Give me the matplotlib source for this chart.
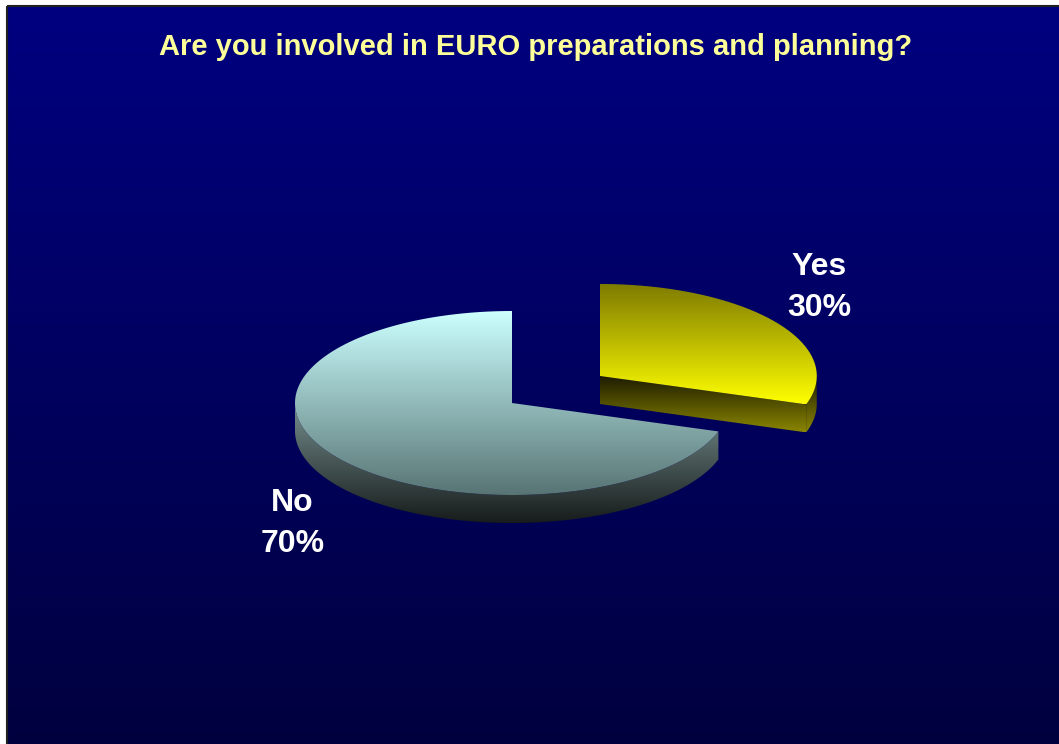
import numpy as np
import matplotlib.pyplot as plt
from matplotlib.colors import LinearSegmentedColormap
from matplotlib.patches import Polygon, Rectangle

# survey answers, drawn clockwise from 12 o'clock
labels = ["Yes", "No"]
shares = [30, 70]
explode = [0.5, 0.0]
title = "Are you involved in EURO preparations and planning?"

W, H = 1059, 744
cx, cy = 512, 403        # centre of the pie's top face (pixels)
rx, ry = 217, 92         # ellipse radii of the tilted disc
depth = 28               # thickness of the disc
label_font = ["Liberation Sans", "DejaVu Sans"]

# top colour, bottom colour for (top face, side faces) of each slice
face_colors = {
    "Yes": (("#7d7a00", "#ffff00"), ("#1c1a00", "#8a8600")),
    "No": (("#ccffff", "#587474"), ("#768e8e", "#161c1b")),
}


def grad_fill(ax, xy, c_top, c_bot, zorder):
    xy = np.asarray(xy)
    patch = Polygon(xy, closed=True, facecolor="none", edgecolor="none",
                    transform=ax.transData)
    ax.add_patch(patch)
    cmap = LinearSegmentedColormap.from_list("g", [c_top, c_bot])
    grad = np.linspace(0, 1, 256).reshape(-1, 1)
    x0, x1 = xy[:, 0].min(), xy[:, 0].max()
    y0, y1 = xy[:, 1].min(), xy[:, 1].max()
    im = ax.imshow(grad, cmap=cmap, extent=(x0, x1, y1, y0), origin="upper",
                   aspect="auto", interpolation="bilinear", zorder=zorder)
    im.set_clip_path(patch)


def rim(t, ox, oy, dy=0.0):
    t = np.radians(t)
    return np.column_stack([ox + rx * np.cos(t), oy - ry * np.sin(t) + dy])


fig = plt.figure(figsize=(W / 100, H / 100), dpi=100)
fig.patch.set_facecolor("white")
ax = fig.add_axes([0, 0, 1, 1])
ax.set_axis_off()

# navy backdrop fading downwards
bg = LinearSegmentedColormap.from_list("bg", ["#000080", "#00003f"])
ax.imshow(np.linspace(0, 1, 256).reshape(-1, 1), cmap=bg,
          extent=(7, W, H, 6), origin="upper", aspect="auto", zorder=0)
ax.add_patch(Rectangle((7, 6), W, H, facecolor="none", edgecolor="#202020",
                       lw=1.5, zorder=1))

total = float(sum(shares))
angle = 90.0
for lab, val, exp in zip(labels, shares, explode):
    t2 = angle
    t1 = angle - 360.0 * val / total
    angle = t1
    mid = np.radians((t1 + t2) / 2)
    ox = cx + exp * rx * np.cos(mid)
    oy = cy - exp * ry * np.sin(mid)
    (top_a, top_b), (side_a, side_b) = face_colors[lab]

    # front part of the outer rim (where the disc faces the viewer)
    for k in (-360, 0, 360):
        a, b = max(t1, -180 + k), min(t2, 0 + k)
        if a < b:
            ts = np.linspace(a, b, 200)
            xy = np.vstack([rim(ts, ox, oy), rim(ts[::-1], ox, oy, depth)])
            grad_fill(ax, xy, side_a, side_b, 2)

    # cut faces that turn towards the viewer
    for t, visible in ((t1, np.cos(np.radians(t1)) > 1e-9),
                       (t2, np.cos(np.radians(t2)) < -1e-9)):
        if visible:
            p = rim([t], ox, oy)[0]
            xy = [(ox, oy), p, (p[0], p[1] + depth), (ox, oy + depth)]
            grad_fill(ax, xy, side_a, side_b, 2)

    ts = np.linspace(t1, t2, 300)
    xy = np.vstack([[ox, oy], rim(ts, ox, oy)])
    grad_fill(ax, xy, top_a, top_b, 3)

    # label outside the slice
    s = np.sin(mid)
    lx = ox + 1.25 * rx * np.cos(mid)
    ly = oy - 1.66 * ry * s + (depth + 3 if s < 0 else 1)
    ax.text(lx, ly, f"{lab}\n{val}%", ha="center", va="center",
            color="white", fontsize=23, fontweight="bold", family=label_font,
            linespacing=1.47, zorder=5)

ax.text(536, 55, title, ha="center", va="baseline", color="#ffff99",
        fontsize=21, fontweight="bold", family=label_font, zorder=5)

ax.set_xlim(0, W)
ax.set_ylim(H, 0)
fig.savefig("out.png", dpi=100)
